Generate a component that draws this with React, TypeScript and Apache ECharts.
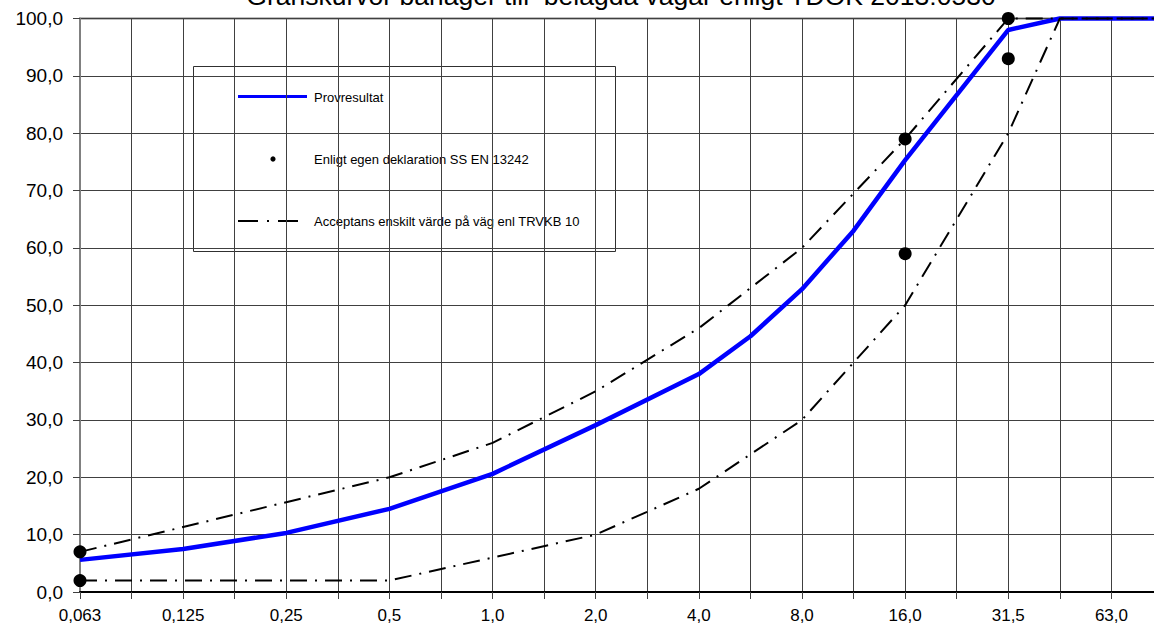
import React, { useEffect, useRef } from "react";
import * as echarts from "echarts";

// Sieve sizes (mm) placed at equal steps along the x axis
const sieveSizes = [0.063, 0.09, 0.125, 0.18, 0.25, 0.35, 0.5, 0.71, 1, 1.4, 2, 2.8, 4, 5.6, 8, 11.2, 16, 22.4, 31.5, 45, 63, 90];
const xTickLabels = ["0,063", "", "0,125", "", "0,25", "", "0,5", "", "1,0", "", "2,0", "", "4,0", "", "8,0", "", "16,0", "", "31,5", "", "63,0", ""];

// Provresultat
const provSieves = [0.063, 0.125, 0.25, 0.5, 1, 2, 4, 5.6, 8, 11.2, 16, 31.5, 45, 63, 90];
const provValues = [5.6, 7.5, 10.3, 14.5, 20.6, 29.1, 38.0, 44.6, 52.8, 63.0, 75.3, 98.0, 100, 100, 100];

// Acceptans enskilt värde, övre gräns
const upperSieves = [0.063, 0.5, 1, 2, 4, 8, 16, 31.5, 45, 63, 90];
const upperValues = [7, 20, 26, 35, 46, 60, 79, 100, 100, 100, 100];

// Acceptans enskilt värde, undre gräns
const lowerSieves = [0.063, 0.5, 2, 4, 8, 16, 31.5, 45, 63, 90];
const lowerValues = [2, 2, 10, 18, 30, 50, 80, 100, 100, 100];

// Enligt egen deklaration SS EN 13242
const declSieves = [0.063, 0.063, 16, 16, 31.5, 31.5];
const declValues = [7, 2, 79, 59, 100, 93];

const titleText = "Gränskurvor bärlager till  belagda vägar enligt TDOK 2013:0530";
const legendNames = ["Provresultat", "Enligt egen deklaration SS EN 13242", "Acceptans enskilt värde på väg enl TRVKB 10"];

const FONT = "Liberation Sans, Arial, sans-serif";

const toPairs = (sizes: number[], vals: number[]) =>
  sizes.map((s, i) => [sieveSizes.indexOf(s), vals[i]]);

export default function App() {
  const ref = useRef<HTMLDivElement>(null);

  useEffect(() => {
    if (!ref.current) return;
    const chart = echarts.init(ref.current, undefined, { renderer: "svg" });
    const dashDot = [17, 8, 2, 8];

    const option: any = {
      animation: false,
      backgroundColor: "#ffffff",
      grid: {
        left: 80,
        top: 18.5,
        width: 1086,
        height: 574,
        show: true,
        borderColor: "#808080",
        borderWidth: 2,
        backgroundColor: "transparent",
      },
      xAxis: {
        type: "value",
        min: 0,
        max: 21,
        interval: 1,
        axisLine: { show: true, onZero: false, lineStyle: { color: "#000", width: 2 } },
        axisTick: { show: true, inside: false, length: 7, lineStyle: { color: "#404040", width: 1 } },
        axisLabel: {
          show: true,
          margin: 15,
          color: "#000",
          fontSize: 17,
          fontFamily: FONT,
          formatter: (v: number) => xTickLabels[Math.round(v)] ?? "",
        },
        splitLine: { show: true, lineStyle: { color: "#404040", width: 1 } },
      },
      yAxis: {
        type: "value",
        min: 0,
        max: 100,
        interval: 10,
        axisLine: { show: true, lineStyle: { color: "#808080", width: 2 } },
        axisTick: { show: true, inside: false, length: 7, lineStyle: { color: "#404040", width: 1 } },
        axisLabel: {
          margin: 17,
          color: "#000",
          fontSize: 19,
          fontFamily: FONT,
          formatter: (v: number) => v.toFixed(1).replace(".", ","),
        },
        splitLine: { show: true, lineStyle: { color: "#404040", width: 1 } },
      },
      series: [
        {
          name: legendNames[0],
          type: "line",
          data: toPairs(provSieves, provValues),
          showSymbol: false,
          symbol: "none",
          clip: false,
          lineStyle: { color: "#0000ff", width: 4.5 },
          z: 2,
        },
        {
          name: legendNames[2],
          type: "line",
          data: toPairs(upperSieves, upperValues),
          showSymbol: false,
          symbol: "none",
          clip: false,
          lineStyle: { color: "#000", width: 2, type: dashDot },
          z: 3,
        },
        {
          name: legendNames[2] + " (undre)",
          type: "line",
          data: toPairs(lowerSieves, lowerValues),
          showSymbol: false,
          symbol: "none",
          clip: false,
          lineStyle: { color: "#000", width: 2, type: dashDot },
          z: 3,
        },
        {
          name: legendNames[1],
          type: "scatter",
          data: toPairs(declSieves, declValues),
          symbol: "circle",
          symbolSize: 13,
          clip: false,
          itemStyle: { color: "#000", opacity: 1 },
          z: 4,
        },
      ],
      graphic: [
        {
          type: "text",
          x: 621,
          y: 9,
          style: {
            text: titleText,
            fontSize: 26.5,
            fontFamily: FONT,
            fill: "#000",
            align: "center",
            verticalAlign: "bottom",
          },
          z: 10,
        },
        {
          type: "group",
          z: 20,
          children: [
            {
              type: "rect",
              shape: { x: 193.5, y: 66.5, width: 422, height: 185 },
              style: { fill: "#fff", stroke: "#303030", lineWidth: 1 },
            },
            {
              type: "line",
              shape: { x1: 238, y1: 96.5, x2: 307, y2: 96.5 },
              style: { stroke: "#0000ff", lineWidth: 3 },
            },
            {
              type: "text",
              x: 314,
              y: 97,
              style: { text: legendNames[0], fontSize: 13, fontFamily: FONT, fill: "#000", verticalAlign: "middle" },
            },
            {
              type: "circle",
              shape: { cx: 273, cy: 159, r: 2.6 },
              style: { fill: "#000" },
            },
            {
              type: "text",
              x: 314,
              y: 159,
              style: { text: legendNames[1], fontSize: 13, fontFamily: FONT, fill: "#000", verticalAlign: "middle" },
            },
            {
              type: "line",
              shape: { x1: 238, y1: 221, x2: 298, y2: 221 },
              style: { stroke: "#000", lineWidth: 2, lineDash: [20, 9, 2, 9] },
            },
            {
              type: "text",
              x: 314,
              y: 221,
              style: { text: legendNames[2], fontSize: 13, fontFamily: FONT, fill: "#000", verticalAlign: "middle" },
            },
          ],
        },
      ],
    };

    chart.setOption(option);
    return () => chart.dispose();
  }, []);

  return (
    <div style={{ position: "fixed", left: 0, top: 0, width: 1154, height: 624, overflow: "hidden", background: "#fff" }}>
      <div ref={ref} style={{ width: 1166, height: 624 }} />
    </div>
  );
}
